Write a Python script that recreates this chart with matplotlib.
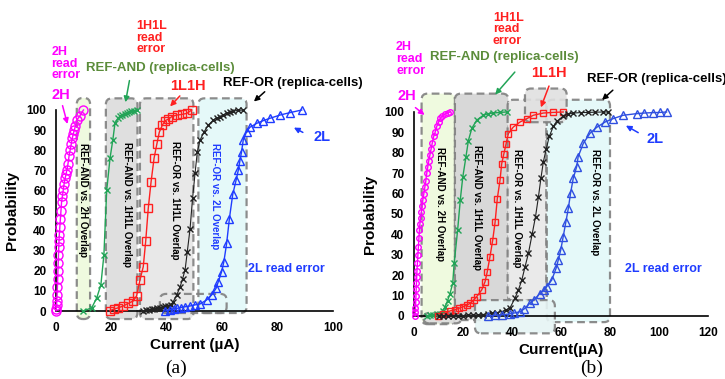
import matplotlib
matplotlib.use('Agg')
import matplotlib.pyplot as plt
from matplotlib.patches import FancyBboxPatch
from matplotlib import font_manager

# ---------------- panel (a) data: current (uA) vs probability (%) ----------------
a_2h_x = [0.0, 0.1, 0.2, 0.3, 0.4, 0.5, 0.6, 0.7, 0.8, 0.9, 1.0, 1.1, 1.2, 1.4, 1.6, 1.8, 2.0,
          2.3, 2.6, 2.9, 3.3, 3.6, 3.9, 4.3, 4.7, 5.1, 5.5, 5.9, 6.2, 6.6, 7.0, 7.5, 8.6, 9.9]
a_2h_y = [0, 1, 3, 5, 8, 12, 16, 20, 24, 28, 32, 35, 38, 42, 46, 50, 54,
          57, 60, 63, 66, 68, 70, 73, 77, 80, 83, 86, 88, 90, 92, 95, 97, 100]

a_and_x = [9.9, 12.9, 14.7, 16.2, 17.3, 18.3, 19.5, 20.5, 21.3, 22.4, 23.2, 24.0, 24.8, 25.6,
           26.4, 27.2, 28.0, 29.1]
a_and_y = [0, 1.6, 6.5, 13, 28, 60, 76, 85, 93.5, 96, 97, 97.5, 98, 98.5, 99, 99.3, 99.6, 100]

a_1l1h_x = [19.5, 21.0, 22.5, 24.3, 26.1, 27.9, 29.1, 30.3, 31.5, 32.4, 33.3, 34.3, 35.4, 36.4,
            37.3, 38.4, 39.4, 40.5, 41.8, 43.6, 45.4, 47.2, 49.0]
a_1l1h_y = [0.2, 1, 1.6, 2.5, 3.8, 5, 7.5, 15.4, 22, 35, 51, 64, 76, 83,
            89, 92.5, 94.7, 95.4, 96.7, 97.5, 97.8, 98.3, 100]

a_or_x = [31.5, 32.5, 33.5, 34.5, 35.5, 36.5, 37.5, 38.5, 39.5, 40.5, 41.5, 42.3, 43.6, 44.8,
          45.7, 46.6, 47.4, 48.4, 49.3, 50.2, 51.0, 52.0, 53.4, 55.0, 56.8, 58.0, 59.2, 60.4,
          61.6, 62.8, 64.0, 65.8, 67.6]
a_or_y = [0, 0.3, 0.5, 0.8, 1, 1.3, 1.6, 2, 2.3, 2.7, 3.2, 4.6, 8, 12,
          16, 20.4, 29.5, 41, 56, 68.5, 79, 85, 89, 92.5, 95, 96, 96.7, 97.5,
          98.3, 99, 99.5, 99.8, 100]

a_2l_x = [39.4, 41.0, 42.5, 43.6, 45.0, 46.5, 48.4, 50.0, 52.0, 54.4, 56.2, 57.8, 58.6, 59.8,
          60.6, 61.6, 62.6, 63.8, 65.0, 65.8, 66.4, 67.0, 67.6, 68.8, 70.0, 72.5, 74.8, 77.3,
          80.9, 84.5, 88.7]
a_2l_y = [0, 0.5, 1, 1.3, 1.7, 2.1, 2.5, 3, 3.5, 5.5, 8, 11.3, 14.6, 19.6,
          24.5, 33.6, 46, 58, 65, 70, 74.8, 79.3, 85.1, 89.2, 91.4, 93.4, 94.7, 95.9,
          97.5, 98.7, 100]

# ---------------- panel (b) data ----------------
b_2h_x = [0.4, 0.5, 0.6, 0.7, 0.8, 0.9, 1.0, 1.1, 1.2, 1.4, 1.6, 1.8, 2.0, 2.2, 2.4, 2.7, 3.0,
          3.3, 3.6, 4.0, 4.4, 4.8, 5.2, 5.6, 6.0, 6.5, 7.0, 7.5, 8.0, 8.6, 9.3, 10.0, 10.8,
          11.6, 12.5, 14.0, 14.7]
b_2h_y = [0, 2, 4, 7, 10, 13, 16, 19, 22, 26, 30, 34, 38, 42, 45, 48, 51,
          54, 57, 60, 63, 66, 70, 73, 76, 79, 82, 85, 88, 90, 93, 95, 97,
          98, 99, 99.7, 100]

b_and_x = [5.2, 6.5, 7.9, 9.2, 10.6, 11.7, 12.7, 13.7, 14.7, 15.8, 16.4, 17.8, 18.9, 19.9,
           21.2, 22.2, 23.6, 25.6, 28.3, 30.4, 32.4, 35.0, 37.8]
b_and_y = [0, 0.3, 0.5, 0.8, 1, 2.5, 4.6, 7.5, 11, 16, 26, 42, 57, 68,
           78, 86, 92, 96, 98.4, 99.2, 99.5, 99.8, 100]

b_1l1h_x = [9.8, 12.0, 14.7, 16.7, 18.4, 20.1, 21.5, 22.9, 24.3, 25.6, 27.6, 29.0, 29.9, 31.0,
            32.1, 33.1, 34.0, 35.1, 35.8, 36.7, 37.6, 38.5, 40.5, 43.3, 46.0, 48.7, 52.8,
            56.8, 60.9]
b_1l1h_y = [0, 1, 2.5, 3, 3.8, 4.6, 5.3, 6.2, 7.8, 9.5, 12.7, 16.8, 21.7, 29,
            37, 46, 57.5, 66.5, 74.7, 79.6, 84.5, 89.4, 92.6, 95.1, 96.7, 98.4, 99.5,
            99.8, 100]

b_or_x = [10, 12, 14, 16, 18, 20, 22, 24, 26, 28, 30, 32, 34, 36, 37.6, 39.2, 41.2, 42.6,
          44.0, 45.3, 46.7, 48.2, 49.6, 50.8, 51.8, 52.8, 54.0, 55.2, 56.9, 58.5, 60.9,
          63.0, 65.0, 68.0, 71.0, 74.0, 77.0, 79.3]
b_or_y = [0, 0, 0, 0, 0.1, 0.2, 0.3, 0.4, 0.5, 0.7, 1, 1.3, 1.7, 2.2, 3, 4, 8.7, 12.7,
          17.6, 24, 30.7, 40, 48.7, 58.5, 67.5, 75.6, 82, 88, 93, 95.5, 98,
          99, 99.5, 99.7, 99.8, 99.9, 100, 100]

b_2l_x = [30.0, 33.0, 36.0, 39.0, 41.0, 43.3, 45.0, 47.3, 49.0, 51.4, 53.0, 54.2, 56.2, 58.0,
          58.9, 59.9, 60.9, 62.0, 63.0, 63.9, 65.0, 66.4, 67.0, 69.1, 71.8, 74.6, 78.0,
          81.4, 85.4, 90.9, 94.0, 97.7, 100.5, 103.1]
b_2l_y = [0, 0.3, 0.6, 1, 1.5, 2.1, 3.5, 6.2, 8, 11, 12.8, 14.4, 17.6, 23.4,
          27.5, 32.4, 38.9, 46.2, 52.8, 60.2, 67.5, 73.2, 78.1, 84.6, 89.5, 92.5, 95.1,
          96.8, 98.4, 99.2, 99.5, 99.7, 99.8, 100]

# overlap windows (current range, probability range)
a_windows = [(7.5, 12.3, -4, 106), (18.0, 29.4, -4, 105.8), (30.3, 49.6, -4, 105.8),
             (51.4, 68.8, -1, 105.8), (37.5, 61.6, -1, 8.5)]
b_windows = [(3.1, 16.7, -4, 109), (16.7, 38.5, -2, 109), (38.2, 54.0, 7.5, 106),
             (54.2, 80.0, -3, 106), (45.3, 62.3, 95, 111.5), (24.9, 57.5, -8.5, 7.8),
             (3.8, 19.4, -3.6, 1.5)]
a_window_fill = ['#eefadc', '#dcdcdc', '#e6e6e6', '#e3f9f9', 'none']
b_window_fill = ['#eefadc', '#d4d4d4', '#e8e8e8', '#e3f9f9', '#e0e0e0', '#e6f4f4', '#dddddd']

installed = {f.name for f in font_manager.fontManager.ttflist}
main_font = 'Liberation Sans Narrow' if 'Liberation Sans Narrow' in installed else 'Liberation Sans'
plt.rcParams['font.family'] = [main_font, 'DejaVu Sans']

MAGENTA = '#ff00ff'
GREEN = '#22a457'
GREEN_TXT = '#5b8c3a'
RED = '#ff2020'
BLACK = '#222222'
BLUE = '#1f3cff'

fig = plt.figure(figsize=(7.25, 3.79), dpi=100)
ax_a = fig.add_axes([56 / 725, 68 / 379, 277 / 725, 201 / 379])
ax_b = fig.add_axes([414 / 725, 63 / 379, 294 / 725, 204 / 379])


def style_axes(ax, xmax, xstep, xlabel):
    ax.set_xlim(0, xmax)
    ax.set_ylim(0, 100)
    ax.set_xticks(range(0, xmax + 1, xstep))
    ax.set_yticks(range(0, 101, 10))
    ax.spines['top'].set_visible(False)
    ax.spines['right'].set_visible(False)
    ax.spines['left'].set_linewidth(1.2)
    ax.spines['bottom'].set_linewidth(1.2)
    ax.tick_params(length=0, labelsize=8.5)
    ax.tick_params(axis='y', pad=7)
    ax.tick_params(axis='x', pad=8)
    for lab in ax.get_xticklabels() + ax.get_yticklabels():
        lab.set_fontweight('bold')
    ax.set_xlabel(xlabel, fontsize=11, fontweight='bold', labelpad=3)
    ax.set_ylabel('Probability', fontsize=11, fontweight='bold', labelpad=5)
    ax.patch.set_alpha(0)


def add_windows(ax, windows, fills, radius):
    pos = ax.get_position()
    x0, x1 = ax.get_xlim()
    y0, y1 = ax.get_ylim()
    px_x = pos.width * 725 / (x1 - x0)
    px_y = pos.height * 379 / (y1 - y0)
    aspect = px_x / px_y
    for (wx0, wx1, wy0, wy1), fc in zip(windows, fills):
        box = FancyBboxPatch((wx0, wy0), wx1 - wx0, wy1 - wy0,
                             boxstyle=f'round,pad=0,rounding_size={radius}',
                             mutation_aspect=aspect, fc=fc, ec='#808080',
                             ls=(0, (3.5, 2)), lw=1.6, clip_on=False, zorder=1, alpha=0.9)
        ax.add_patch(box)


def curve(ax, x, y, color, marker, ms, lw=1.0):
    ax.plot(x, y, color=color, marker=marker, ms=ms, mfc='none', mec=color, mew=1.0,
            lw=lw, clip_on=False, zorder=3)


def label(ax, x, y, s, color, size=9, **kw):
    ax.text(x, y, s, color=color, fontsize=size, fontweight='bold', ha='center', va='center',
            clip_on=False, linespacing=0.95, **kw)


def arrow(ax, tail, head, color):
    ax.annotate('', xy=head, xytext=tail, annotation_clip=False,
                arrowprops=dict(arrowstyle='-|>', color=color, lw=1.1, mutation_scale=8))


# ---------------- panel (a) ----------------
style_axes(ax_a, 100, 20, 'Current (µA)')
add_windows(ax_a, a_windows, a_window_fill, 2.2)
curve(ax_a, a_2h_x, a_2h_y, MAGENTA, 'o', 6.5)
curve(ax_a, a_and_x, a_and_y, GREEN, 'x', 5)
curve(ax_a, a_1l1h_x, a_1l1h_y, RED, 's', 5.5)
curve(ax_a, a_or_x, a_or_y, BLACK, 'x', 4, lw=0.8)
curve(ax_a, a_2l_x, a_2l_y, BLUE, '^', 5.5)

vkw = dict(rotation=-90, ha='center', va='center', fontsize=7.0, fontweight='bold', zorder=4)
ax_a.text(9.7, 55, 'REF-AND vs. 2H Overlap', color='black', **vkw)
ax_a.text(25.6, 53, 'REF-AND vs. 1H1L Overlap', color='black', **vkw)
ax_a.text(43.0, 55, 'REF-OR vs. 1H1L Overlap', color='black', **vkw)
ax_a.text(57.4, 57, 'REF-OR vs. 2L Overlap', color=BLUE, **vkw)

ax_a.text(-1.6, 123, '2H\nread\nerror', color=MAGENTA, fontsize=9, fontweight='bold',
          ha='left', va='center', linespacing=0.95)
label(ax_a, 1.6, 107.5, '2H', MAGENTA, 10.5)
arrow(ax_a, (2.1, 103.5), (4.4, 91.7), MAGENTA)
label(ax_a, 37.5, 121, 'REF-AND (replica-cells)', GREEN_TXT, 9.5)
arrow(ax_a, (26.7, 116), (24.9, 102.5), GREEN)
ax_a.text(29.1, 136, '1H1L\nread\nerror', color=RED, fontsize=9, fontweight='bold',
          ha='left', va='center', linespacing=0.95)
label(ax_a, 47.7, 112, '1L1H', RED, 10.5)
arrow(ax_a, (45.4, 108), (40.5, 100.8), RED)
label(ax_a, 85.6, 113.4, 'REF-OR (replica-cells)', 'black', 9.5)
arrow(ax_a, (76.1, 110), (70.7, 103.3), 'black')
label(ax_a, 95.9, 86.7, '2L', BLUE, 10.5)
arrow(ax_a, (90.0, 88.2), (85.0, 91.9), BLUE)
label(ax_a, 83.0, 20.7, '2L read error', BLUE, 9)

# ---------------- panel (b) ----------------
style_axes(ax_b, 120, 20, 'Current(µA)')
add_windows(ax_b, b_windows, b_window_fill, 2.4)
curve(ax_b, b_2h_x, b_2h_y, MAGENTA, 'o', 4)
curve(ax_b, b_and_x, b_and_y, GREEN, 'x', 4.5)
curve(ax_b, b_1l1h_x, b_1l1h_y, RED, 's', 4.5)
curve(ax_b, b_or_x, b_or_y, BLACK, 'x', 4.5, lw=0.8)
curve(ax_b, b_2l_x, b_2l_y, '#2f4fe0', '^', 5.5)

ax_b.text(10.6, 55, 'REF-AND vs. 2H Overlap', color='black', **vkw)
ax_b.text(25.6, 53, 'REF-AND vs. 1H1L Overlap', color='black', **vkw)
ax_b.text(42.0, 53, 'REF-OR vs. 1H1L Overlap', color='black', **vkw)
ax_b.text(74.0, 56, 'REF-OR vs. 2L Overlap', color='black', **vkw)

ax_b.text(-7.3, 126, '2H\nread\nerror', color=MAGENTA, fontsize=9, fontweight='bold',
          ha='left', va='center', linespacing=0.95)
label(ax_b, -3.1, 108, '2H', MAGENTA, 10.5)
arrow(ax_b, (-0.3, 103), (5.2, 97.7), MAGENTA)
label(ax_b, 36.7, 127, 'REF-AND (replica-cells)', GREEN_TXT, 9.5)
arrow(ax_b, (41.9, 120.6), (32.4, 107.5), GREEN)
ax_b.text(32.2, 140.5, '1H1L\nread\nerror', color=RED, fontsize=9, fontweight='bold',
          ha='left', va='center', linespacing=0.95)
label(ax_b, 55.1, 119.3, '1L1H', RED, 10.5)
arrow(ax_b, (55.5, 114), (51.4, 101), RED)
label(ax_b, 99.0, 116, 'REF-OR (replica-cells)', 'black', 9.5)
arrow(ax_b, (82.0, 111.6), (75.9, 105), 'black')
label(ax_b, 98.4, 87, '2L', BLUE, 10.5)
arrow(ax_b, (92.5, 89.2), (85.5, 94.0), BLUE)
label(ax_b, 101.6, 22.9, '2L read error', BLUE, 9)

fig.text(176 / 725, 1 - 368 / 379, '(a)', family='Liberation Serif', fontsize=14,
         ha='center', va='center')
fig.text(592 / 725, 1 - 368 / 379, '(b)', family='Liberation Serif', fontsize=14,
         ha='center', va='center')

fig.savefig('out.png', dpi=100)
